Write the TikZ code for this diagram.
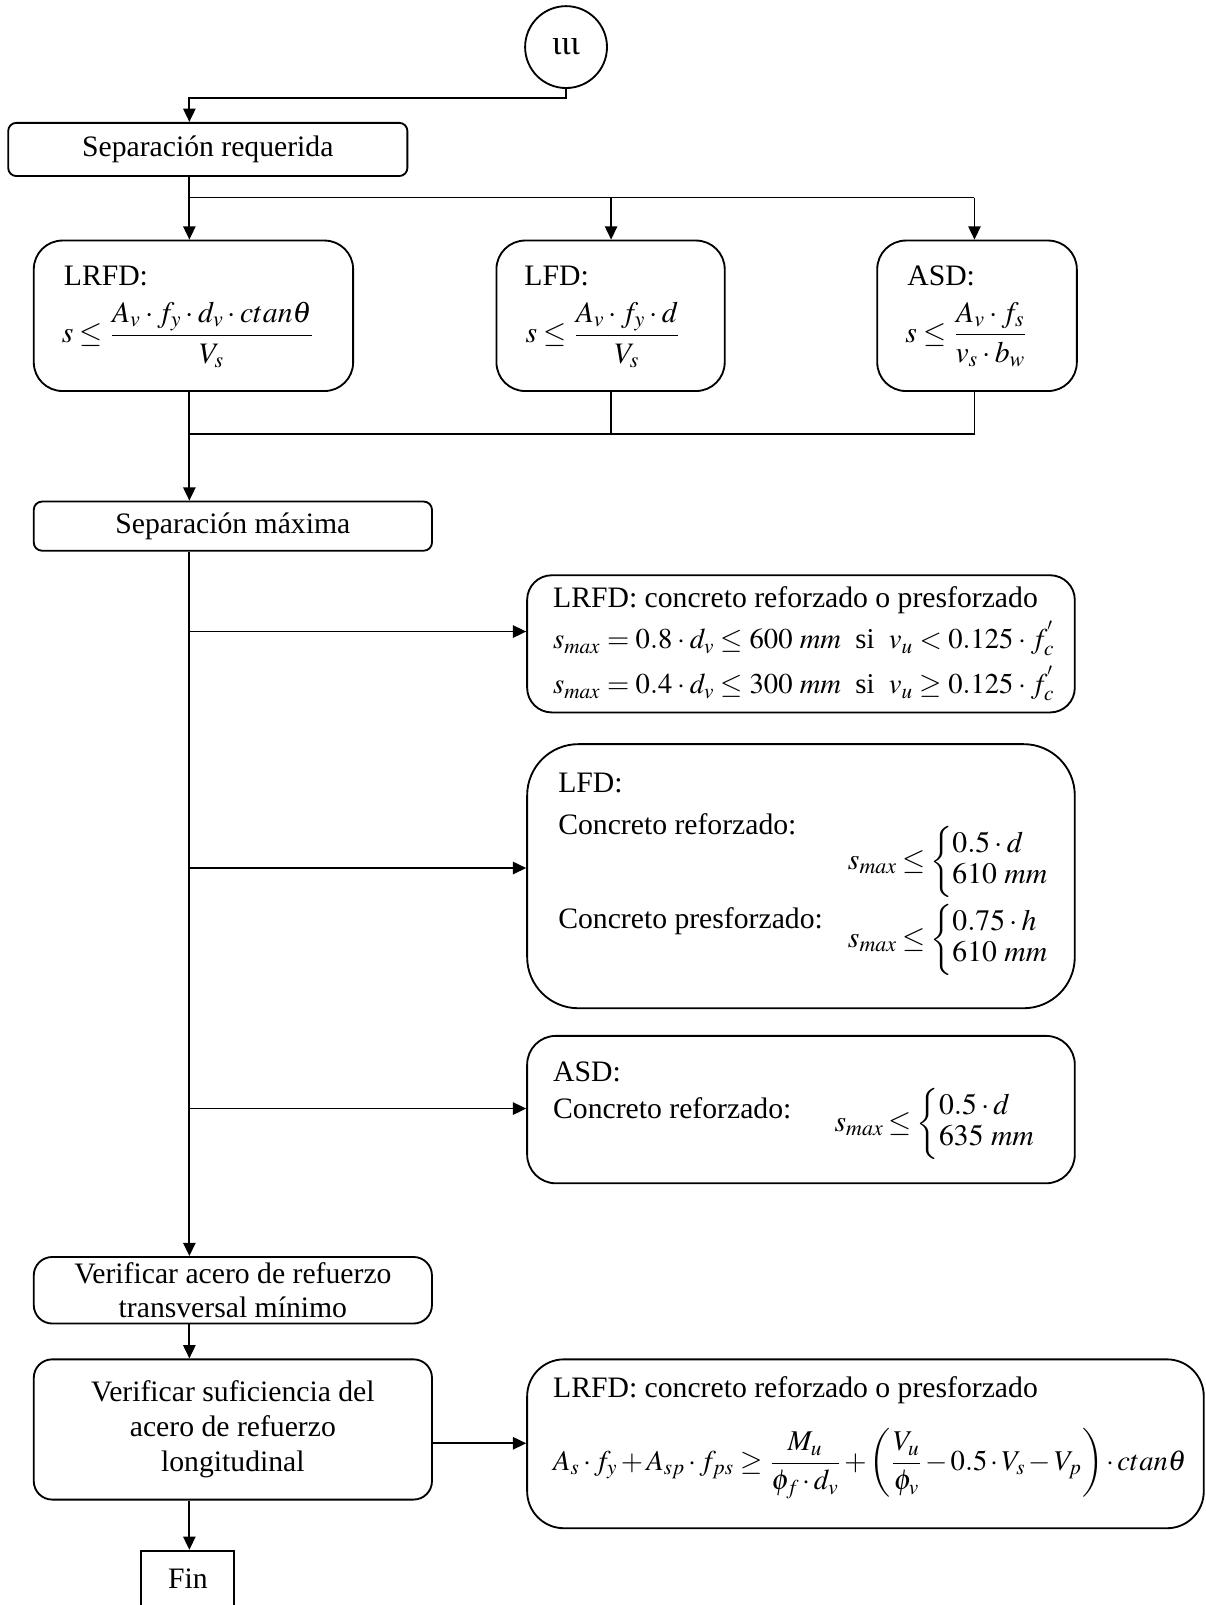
\documentclass[tikz,border=0pt]{standalone}
\usepackage{amsmath}
\usepackage{mathptmx}
\usepackage[no-math]{fontspec}
\setmainfont{Liberation Serif}
\usetikzlibrary{arrows.meta}
\newcommand{\mybrc}[2]{\left\{\renewcommand{\arraystretch}{0.9}\begin{array}{@{}l@{}}#1\\#2\end{array}\right.}
\tikzset{
  ln/.style={line width=0.9pt},
  arr/.style={line width=0.9pt,-{Triangle[length=6.5pt,width=6pt]}},
  box/.style={draw,line width=0.9pt,inner sep=0pt,align=center},
  txt/.style={anchor=west,inner sep=0pt}
}
\begin{document}
\begin{tikzpicture}[x=0.5pt,y=-0.5pt,font=\fontsize{14.5}{17}\selectfont]
\useasboundingbox (0,0) rectangle (1178,1568);
% nodes
\node[draw,circle,minimum size=40pt,line width=0.9pt,inner sep=0pt,font=\fontsize{17}{20}\selectfont] (c) at (553,46) {ιιι};
\node[box,rounded corners=4pt,minimum width=195pt,minimum height=26pt] (req) at (203,146) {Separación requerida};
\node[box,rounded corners=14pt,minimum width=156pt,minimum height=73.5pt] (lrfd1) at (189,308.5) {};
\node[box,rounded corners=14pt,minimum width=111.5pt,minimum height=73.5pt] (lfd1) at (596.5,308.5) {};
\node[box,rounded corners=14pt,minimum width=97.5pt,minimum height=73.5pt] (asd1) at (954.5,308.5) {};
\node[box,rounded corners=4pt,minimum width=194.5pt,minimum height=24pt] (max) at (227.5,514) {Separación máxima};
\node[box,rounded corners=12pt,minimum width=267.5pt,minimum height=67pt] (lrfd2) at (782.5,629) {};
\node[box,rounded corners=25pt,minimum width=267.5pt,minimum height=129pt] (lfd2) at (782.5,856) {};
\node[box,rounded corners=14pt,minimum width=267.5pt,minimum height=72pt] (asd2) at (782.5,1084) {};
\node[box,rounded corners=9pt,minimum width=194.5pt,minimum height=32.5pt] (trans) at (227.5,1260.5) {Verificar acero de refuerzo\\transversal mínimo};
\node[box,rounded corners=9pt,minimum width=194.5pt,minimum height=68.5pt] (long) at (227.5,1396.5) {Verificar suficiencia del\\acero de refuerzo\\longitudinal};
\node[box,rounded corners=18pt,minimum width=330.5pt,minimum height=82.5pt] (lrfd3) at (845.5,1410.5) {};
\node[box,minimum width=45.5pt,minimum height=27.5pt] (fin) at (183.5,1542.5) {Fin};
% texts
\node[txt] (t1a) at (62,270) {LRFD:};
\node[txt] (t1b) at (60,327) {$s\le\dfrac{A_v\cdot f_y\cdot d_v\cdot ctan\theta}{V_s}$};
\node[txt] (t2a) at (512,270) {LFD:};
\node[txt] (t2b) at (513,327) {$s\le\dfrac{A_v\cdot f_y\cdot d}{V_s}$};
\node[txt] (t3a) at (886,270) {ASD:};
\node[txt] (t3b) at (884,327) {$s\le\dfrac{A_v\cdot f_s}{v_s\cdot b_w}$};
\node[txt] (t4a) at (540,586) {LRFD: concreto reforzado o presforzado};
\node[txt,font=\fontsize{14}{17}\selectfont] (t4b) at (540,624) {$\medmuskip=3mu\thickmuskip=4mu s_{max}=0.8\cdot d_v\le 600\ mm\ \ \mbox{si}\ \ v_u<0.125\cdot f_c^{'}$};
\node[txt,font=\fontsize{14}{17}\selectfont] (t4c) at (540,668) {$\medmuskip=3mu\thickmuskip=4mu s_{max}=0.4\cdot d_v\le 300\ mm\ \ \mbox{si}\ \ v_u\ge0.125\cdot f_c^{'}$};
\node[txt] (t5a) at (545,765) {LFD:};
\node[txt] (t5b) at (545,805) {Concreto reforzado:};
\node[txt] (t5c) at (828,842) {$\thickmuskip=3mu s_{max}\le\mybrc{0.5\cdot d}{610\ mm}$};
\node[txt] (t5d) at (545,900) {Concreto presforzado:};
\node[txt] (t5e) at (828,918) {$\thickmuskip=3mu s_{max}\le\mybrc{0.75\cdot h}{610\ mm}$};
\node[txt] (t6a) at (540,1047) {ASD:};
\node[txt] (t6b) at (540,1083) {Concreto reforzado:};
\node[txt] (t6c) at (815,1098) {$\thickmuskip=3mu s_{max}\le\mybrc{0.5\cdot d}{635\ mm}$};
\node[txt] (t7a) at (540,1358) {LRFD: concreto reforzado o presforzado};
\node[txt,font=\fontsize{14}{17}\selectfont] (t7b) at (540,1430) {$\medmuskip=2mu\thickmuskip=4mu A_s\cdot f_y+A_{sp}\cdot f_{ps}\ge\dfrac{M_u}{\phi_f\cdot d_v}+\left(\dfrac{V_u}{\phi_v}-0.5\cdot V_s-V_p\right)\cdot ctan\theta$};
% connectors
\coordinate (j0) at (185,96);
\draw[arr] (c.south) |- (j0) -- (j0 |- req.north);
\coordinate (j1) at (185,193);
\coordinate (j2) at (597,193);
\coordinate (j3) at (952,193);
\draw[ln] (j1 |- req.south) -- (j1) -- (j3);
\draw[arr] (j1) -- (j1 |- lrfd1.north);
\draw[arr] (j2) -- (j2 |- lfd1.north);
\draw[arr] (j3) -- (j3 |- asd1.north);
\coordinate (k1) at (185,424);
\coordinate (k2) at (597,424);
\coordinate (k3) at (952,424);
\draw[ln] (k1 |- lrfd1.south) -- (k1);
\draw[ln] (k2 |- lfd1.south) -- (k2);
\draw[ln] (k3 |- asd1.south) -- (k3) -- (k1);
\draw[arr] (k1) -- (k1 |- max.north);
\draw[arr] (k1 |- max.south) -- (k1 |- trans.north);
\coordinate (b1) at (185,617);
\coordinate (b2) at (185,848);
\coordinate (b3) at (185,1083);
\draw[arr] (b1) -- (b1 -| lrfd2.west);
\draw[arr] (b2) -- (b2 -| lfd2.west);
\draw[arr] (b3) -- (b3 -| asd2.west);
\draw[arr] (k1 |- trans.south) -- (k1 |- long.north);
\coordinate (m) at (0,1410);
\draw[arr] (long.east |- m) -- (lrfd3.west |- m);
\draw[arr] (k1 |- long.south) -- (k1 |- fin.north);
\end{tikzpicture}
\end{document}
